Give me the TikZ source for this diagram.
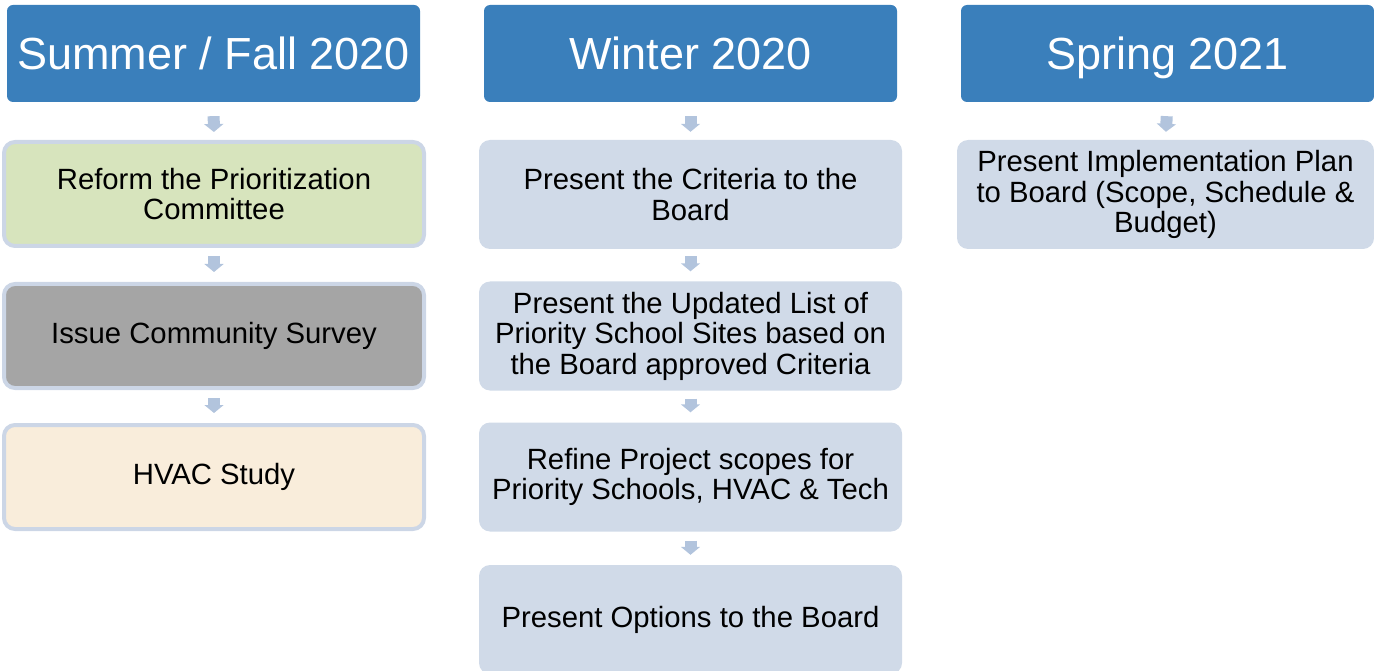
\documentclass[tikz,border=0pt]{standalone}
\usepackage{fontspec}
\setmainfont{Liberation Sans}
\usetikzlibrary{arrows.meta}
\definecolor{hdrblue}{RGB}{58,127,187}
\definecolor{boxblue}{RGB}{208,218,232}
\definecolor{boxgreen}{RGB}{215,228,189}
\definecolor{boxgray}{RGB}{165,165,165}
\definecolor{boxbeige}{RGB}{249,237,219}
\definecolor{rimblue}{RGB}{204,214,230}
\definecolor{arrblue}{RGB}{178,196,221}
\tikzset{
  hdr/.style={rectangle, rounded corners=6pt, fill=hdrblue, text=white,
    minimum width=413pt, minimum height=97pt, inner sep=0pt,
    text height=32.5pt, text depth=0pt,
    font=\fontsize{45}{50}\selectfont},
  item/.style={rectangle, rounded corners=11pt, fill=boxblue,
    minimum width=423pt, minimum height=109pt, inner sep=0pt, align=center,
    font=\fontsize{29.3}{30.5}\selectfont},
  rimitem/.style={item, draw=rimblue, line width=4pt, minimum width=420pt, minimum height=104pt},
  arr/.style={draw=arrblue, line width=12pt, -{Triangle[width=19pt,length=8pt]}}
}
\begin{document}
\begin{tikzpicture}[x=1pt,y=-1pt]
\useasboundingbox (0,0) rectangle (1374,671);
% headers
\node[hdr] (h1) at (213.5,53.5) {Summer / Fall 2020};
\node[hdr] (h2) at (690.5,53.5) {Winter 2020};
\node[hdr] (h3) at (1167.5,53.5) {Spring 2021};
% column 1
\node[rimitem, fill=boxgreen] (a1) at (214,194) {Reform the Prioritization\\Committee};
\node[rimitem, fill=boxgray] (a2) at (214,336) {Issue Community Survey};
\node[rimitem, fill=boxbeige] (a3) at (214,477) {HVAC Study};
% column 2
\node[item] (b1) at (690.5,194.5) {Present the Criteria to the\\Board};
\node[item] (b2) at (690.5,336) {Present the Updated List of\\Priority School Sites based on\\the Board approved Criteria};
\node[item] (b3) at (690.5,477) {Refine Project scopes for\\Priority Schools, HVAC \& Tech};
\node[item] (b4) at (690.5,619.5) {Present Options to the Board};
% column 3
\node[item, minimum width=417pt] (c1) at (1165.5,194.5) {Present Implementation Plan\\to Board (Scope, Schedule \&\\Budget)};
% arrows
\draw[arr, shorten <=14pt, shorten >=8pt] (h1.south) -- (a1.north);
\draw[arr, shorten <=8pt, shorten >=10pt] (a1.south) -- (a2.north);
\draw[arr, shorten <=8pt, shorten >=10pt] (a2.south) -- (a3.north);
\draw[arr, shorten <=14pt, shorten >=8pt] (h2.south) -- (b1.north);
\draw[arr, shorten <=7pt, shorten >=10pt] (b1.south) -- (b2.north);
\draw[arr, shorten <=8pt, shorten >=10pt] (b2.south) -- (b3.north);
\draw[arr, shorten <=9pt, shorten >=10pt] (b3.south) -- (b4.north);
\draw[arr, shorten <=14pt, shorten >=8pt] (h3.south) -- (c1.north);
\end{tikzpicture}
\end{document}
